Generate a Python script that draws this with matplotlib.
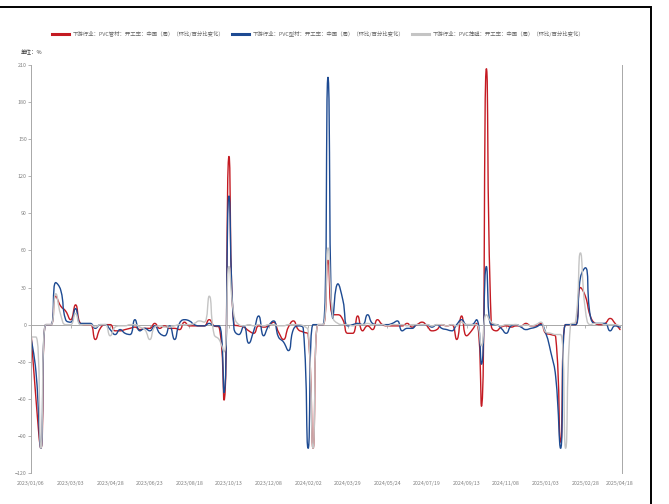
import numpy as np
import pandas as pd
import matplotlib
matplotlib.use("Agg")
import matplotlib.pyplot as plt
from matplotlib.path import Path
from matplotlib.patches import PathPatch, Rectangle
from matplotlib.lines import Line2D

plt.rcParams['font.family'] = ['Noto Sans CJK SC', 'DejaVu Sans']

# 周度日期：2023/01/06 起，共 120 周
dates = pd.date_range("2023-01-06", periods=120, freq="7D")

names = [
    "下游行业：PVC管材：开工率：中国（周）（环比/百分比变化）",
    "下游行业：PVC型材：开工率：中国（周）（环比/百分比变化）",
    "下游行业：PVC薄膜：开工率：中国（周）（环比/百分比变化）",
]

pipe = [
    -5, -60, -100, 0, 0, 23, 15, 11, 4, 16,
    1, 0, 0, -12, -3, 0, 0, -5, -5, -4,
    -3, -2, -4, -3, -3, 1, -3, -1, -3, -3,
    -4, 2, -1, -1, -1, -1, 4, -1, -2, -61,
    136, 0, -1, -2, -5, -7, -1, -2, -1, 2,
    -6, -12, -2, 3, -4, -6, -8, -100, 0, 0,
    52, 8, 8, 4, -7, -7, 7, -5, -1, -4,
    4, 0, -1, -1, -1, -1, 1, -2, 0, 2,
    -1, -5, -4, 0, -1, 0, -12, 7, -9, -5,
    1, -66, 207, -1, -5, -2, -1, -2, -1, -1,
    1, -1, -1, 1, -7, -8, -10, -95, 0, 0,
    0, 30, 23, 7, 1, 0, 1, 5, 1, -4,
]

profile = [
    -11, -38, -100, 0, 0, 34, 28, 4, 2, 13,
    1, 1, 1, -3, 0, 0, -4, -8, -4, -7,
    -8, 4, -5, -3, -5, -1, -7, -9, -1, -12,
    1, 4, 3, 0, -1, -1, 1, -1, -1, -55,
    104, -3, -8, -1, -15, -5, 7, -9, -1, 3,
    -10, -14, -21, -4, -1, -3, -100, 0, 0, 0,
    200, 5, 33, 20, -1, 0, 1, 0, 8, 1,
    0, 0, 0, 1, 3, -5, -3, -3, 0, 0,
    0, -2, 0, -3, -4, -5, 0, 4, 0, 0,
    4, -32, 47, 0, 0, -3, -7, -1, 0, -2,
    -4, -3, -2, 0, -7, -22, -42, -100, 0, 0,
    0, 38, 46, 7, 1, 1, 1, -5, -1, -2,
]

film = [
    -10, -10, -100, 0, 0, 25, 8, 0, 0, 9,
    0, 0, 0, -2, 0, 0, -9, -2, -1, -1,
    0, 0, -2, -4, -12, -2, -1, -2, -2, -1,
    0, 0, 0, 1, 3, 2, 23, -8, -12, -22,
    47, 8, 0, -1, 0, -1, 0, -1, 0, 0,
    -1, -1, 0, 0, 0, -1, -5, -100, 0, 0,
    62, 6, 1, 0, 0, -1, 0, 0, 1, 0,
    0, 0, -1, 0, 0, 0, -1, 0, 0, 0,
    0, -1, 0, 0, -1, 0, -1, 2, 0, 0,
    0, -17, 8, 2, 0, -1, 0, 0, 0, -1,
    0, -1, 0, 2, -6, -7, -8, -8, -100, 0,
    2, 58, 12, 0, 1, 1, 0, 0, 0, -1,
]

colors = ["#c41a22", "#1d4a92", "#c4c4c4"]
tick_idx = list(range(0, 113, 8)) + [119]


def smooth_path(xs, ys, sx, sy, smooth=0.5):
    # 平滑曲线（控制点夹在相邻点之间，不越过极值），在像素尺度下计算
    X = np.asarray(xs, float) * sx
    Y = np.asarray(ys, float) * sy
    n = len(X)
    verts = [(X[0], Y[0])]
    codes = [Path.MOVETO]
    c0x, c0y = X[0], Y[0]
    for i in range(1, n):
        x, y = X[i], Y[i]
        px, py = X[i - 1], Y[i - 1]
        if i == n - 1:
            c1x, c1y = x, y
            nx0, ny0 = x, y
        else:
            nx, ny = X[i + 1], Y[i + 1]
            vx, vy = nx - px, ny - py
            lp = np.hypot(x - px, y - py)
            ln = np.hypot(nx - x, ny - y)
            r = ln / (ln + lp)
            nx0 = x + vx * smooth * r
            ny0 = y + vy * smooth * r
            nx0 = max(min(nx0, max(nx, x)), min(nx, x))
            ny0 = max(min(ny0, max(ny, y)), min(ny, y))
            vx, vy = nx0 - x, ny0 - y
            c1x = x - vx * lp / ln
            c1y = y - vy * lp / ln
            c1x = max(min(c1x, max(px, x)), min(px, x))
            c1y = max(min(c1y, max(py, y)), min(py, y))
            vx, vy = x - c1x, y - c1y
            nx0 = x + vx * ln / lp
            ny0 = y + vy * ln / lp
        verts += [(c0x, c0y), (c1x, c1y), (x, y)]
        codes += [Path.CURVE4] * 3
        c0x, c0y = nx0, ny0
    v = np.array(verts)
    v[:, 0] /= sx
    v[:, 1] /= sy
    return Path(v, codes)


fig = plt.figure(figsize=(6.69, 5.04), dpi=100)
ax = fig.add_axes([31 / 669, 31 / 504, 591 / 669, 408 / 504])
ax.set_xlim(0, 119.4)
ax.set_ylim(-120, 210)

x = np.arange(len(dates))
for vals, c in zip([pipe, profile, film], colors):
    path = smooth_path(x, vals, 4.95, 1.236)
    ax.add_patch(PathPatch(path, facecolor="none", edgecolor=c, lw=1.0,
                           joinstyle="round", capstyle="round"))

axis_c = "#a8a8a8"
for s in ["top", "bottom"]:
    ax.spines[s].set_visible(False)
for s in ["left", "right"]:
    ax.spines[s].set_color(axis_c)
    ax.spines[s].set_linewidth(0.7)

ax.set_yticks(np.arange(-120, 211, 30))
ax.tick_params(axis="y", length=2, width=0.6, color=axis_c, pad=1,
               labelsize=3.8, labelcolor="#808080")
ax.tick_params(axis="y", which="both", right=False)

ax.set_xticks(tick_idx)
ax.set_xticklabels([dates[i].strftime("%Y/%m/%d") for i in tick_idx])
ax.tick_params(axis="x", length=0, pad=6, labelsize=3.8, labelcolor="#808080")

# 零轴线及刻度
zero = ax.secondary_xaxis(120 / 330)
zero.set_xticks(tick_idx)
zero.set_xticklabels([])
zero.spines["bottom"].set_color(axis_c)
zero.spines["bottom"].set_linewidth(0.7)
zero.tick_params(axis="x", length=2, width=0.6, color=axis_c)

fig.text(21 / 669, 1 - 52 / 504, "单位：%", fontsize=4, color="#333333",
         va="center", ha="left")

handles = [Line2D([], [], color=c, lw=2.2) for c in colors]
fig.legend(handles, names, loc="center", bbox_to_anchor=(318 / 669, 1 - 33.5 / 504),
           ncol=3, frameon=False, fontsize=3.9, handlelength=3.2,
           handletextpad=0.6, columnspacing=1.4, labelcolor="#666666")

fig.patches.append(Rectangle((-0.1, -0.1), 651 / 669 + 0.1, 1 - 7 / 504 + 0.1,
                             transform=fig.transFigure, fill=False,
                             edgecolor="black", lw=1.4))

fig.savefig("out.png", dpi=100)
